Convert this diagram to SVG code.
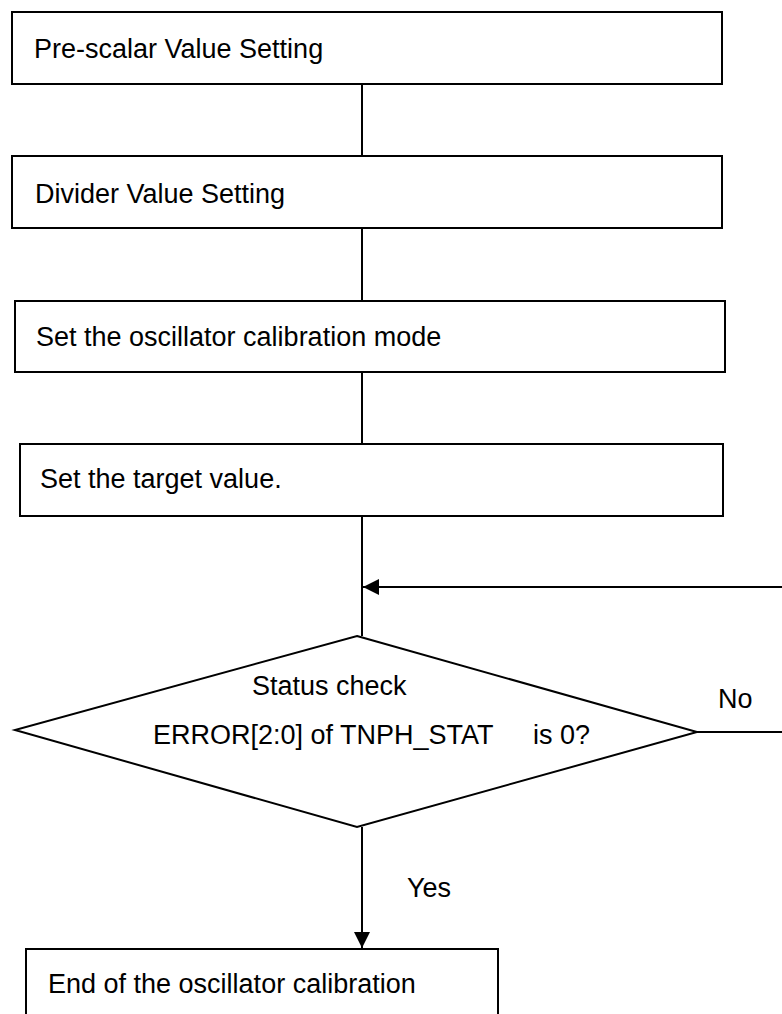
<svg xmlns="http://www.w3.org/2000/svg" width="782" height="1014" viewBox="0 0 782 1014">
<style>
.box{fill:#fff;stroke:#000;stroke-width:2}
.lbl{font-family:"Liberation Sans",Arial,sans-serif;font-size:27px;fill:#000}
.ln{fill:none;stroke:#000;stroke-width:2}
</style>
<defs>
<marker id="ah" viewBox="0 0 16 16" refX="16" refY="8" markerWidth="16" markerHeight="16" markerUnits="userSpaceOnUse" orient="auto">
<path d="M0,0 L16,8 L0,16 Z" fill="#000"/>
</marker>
</defs>
<rect width="782" height="1014" fill="#fff"/>
<g id="connectors">
<path class="ln" d="M362,84 V156"/>
<path class="ln" d="M362,228 V301"/>
<path class="ln" d="M362,372 V444"/>
<path class="ln" d="M362,516 V636"/>
<path class="ln" d="M362,827 V948" marker-end="url(#ah)"/>
<path class="ln" d="M697,732 H800 V587 H363" marker-end="url(#ah)"/>
<text class="lbl" x="718" y="708">No</text>
<text class="lbl" x="407" y="897">Yes</text>
</g>
<g id="n1">
<rect class="box" x="12" y="12" width="710" height="72"/>
<text class="lbl" x="34" y="58">Pre-scalar Value Setting</text>
</g>
<g id="n2">
<rect class="box" x="12" y="156" width="710" height="72"/>
<text class="lbl" x="35" y="203">Divider Value Setting</text>
</g>
<g id="n3">
<rect class="box" x="15" y="301" width="710" height="71"/>
<text class="lbl" x="36" y="346">Set the oscillator calibration mode</text>
</g>
<g id="n4">
<rect class="box" x="20" y="444" width="703" height="72"/>
<text class="lbl" x="40" y="488">Set the target value.</text>
</g>
<g id="n5">
<polygon class="box" points="357,636 697,732 357,827 15,730"/>
<text class="lbl" x="252" y="695">Status check</text>
<text class="lbl" x="153" y="744">ERROR[2:0] of TNPH_STAT</text>
<text class="lbl" x="533" y="744">is 0?</text>
</g>
<g id="n6">
<rect class="box" x="26" y="949" width="472" height="90"/>
<text class="lbl" x="48" y="993">End of the oscillator calibration</text>
</g>
</svg>
